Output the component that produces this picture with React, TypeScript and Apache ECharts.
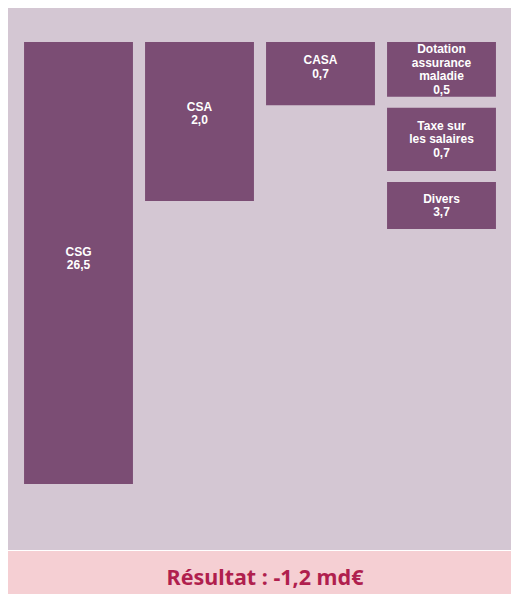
import React, { useEffect, useRef } from "react";
import * as echarts from "echarts";

const names = ["CSG", "CSA", "CASA", "Dotation\nassurance\nmaladie", "Taxe sur\nles salaires", "Divers"];
const values = [26.5, 2.0, 0.7, 0.5, 0.7, 3.7];
const columnIndex = [0, 1, 2, 3, 3, 3];
// block extents on a 0–100 layout scale (the blocks are not drawn to value scale)
const blockStart = [0, 0, 0, 0, 14.9, 31.7];
const blockEnd = [100, 36, 14.3, 12.4, 29.2, 42.3];
const resultValue = -1.2;

const fmt = (v: number) => v.toFixed(1).replace(".", ",");

export default function App() {
  const ref = useRef<HTMLDivElement>(null);
  useEffect(() => {
    if (!ref.current) return;
    const chart = echarts.init(ref.current, null, { renderer: "svg" });
    const labelDy = [-4.5, -8, -6.5, 0, 0, 0];
    const data = names.map((n, i) => [columnIndex[i], blockStart[i], blockEnd[i], i]);
    chart.setOption({
      animation: false,
      backgroundColor: "#ffffff",
      grid: { left: 18, right: 9, top: 42, bottom: 110 },
      xAxis: { type: "value", min: -0.5, max: 3.5, show: false },
      yAxis: { type: "value", min: 0, max: 100, inverse: true, show: false },
      graphic: [
        { type: "rect", z: -10, shape: { x: 8, y: 8, width: 503, height: 542 }, style: { fill: "#d4c7d3" } },
        { type: "rect", z: -10, shape: { x: 8, y: 551, width: 503, height: 43 }, style: { fill: "#f5cfd3" } },
        {
          type: "text",
          z: 10,
          x: 265,
          y: 576,
          style: {
            text: `Résultat : ${fmt(resultValue)} md€`,
            align: "center",
            verticalAlign: "middle",
            fill: "#b01f4e",
            font: "bold 21.5px 'Noto Sans'",
          },
        },
      ],
      series: [
        {
          type: "custom",
          data,
          renderItem: (params: any, api: any) => {
            const col = api.value(0);
            const s = api.value(1);
            const e = api.value(2);
            const idx = api.value(3);
            const p0 = api.coord([col - 0.45, s]);
            const p1 = api.coord([col + 0.45, e]);
            const w = p1[0] - p0[0];
            const h = p1[1] - p0[1];
            return {
              type: "group",
              children: [
                {
                  type: "rect",
                  shape: { x: p0[0], y: p0[1], width: w, height: h },
                  style: { fill: "#7b4d74" },
                },
                {
                  type: "text",
                  style: {
                    text: `${names[idx]}\n${fmt(values[idx])}`,
                    x: p0[0] + w / 2,
                    y: p0[1] + h / 2 + labelDy[idx],
                    align: "center",
                    verticalAlign: "middle",
                    fill: "#ffffff",
                    font: "bold 12px 'Liberation Sans'",
                    lineHeight: 13.6,
                  },
                },
              ],
            };
          },
        },
      ],
    });
    return () => chart.dispose();
  }, []);
  return <div ref={ref} style={{ position: "fixed", left: 0, top: 0, width: 511, height: 594 }} />;
}
